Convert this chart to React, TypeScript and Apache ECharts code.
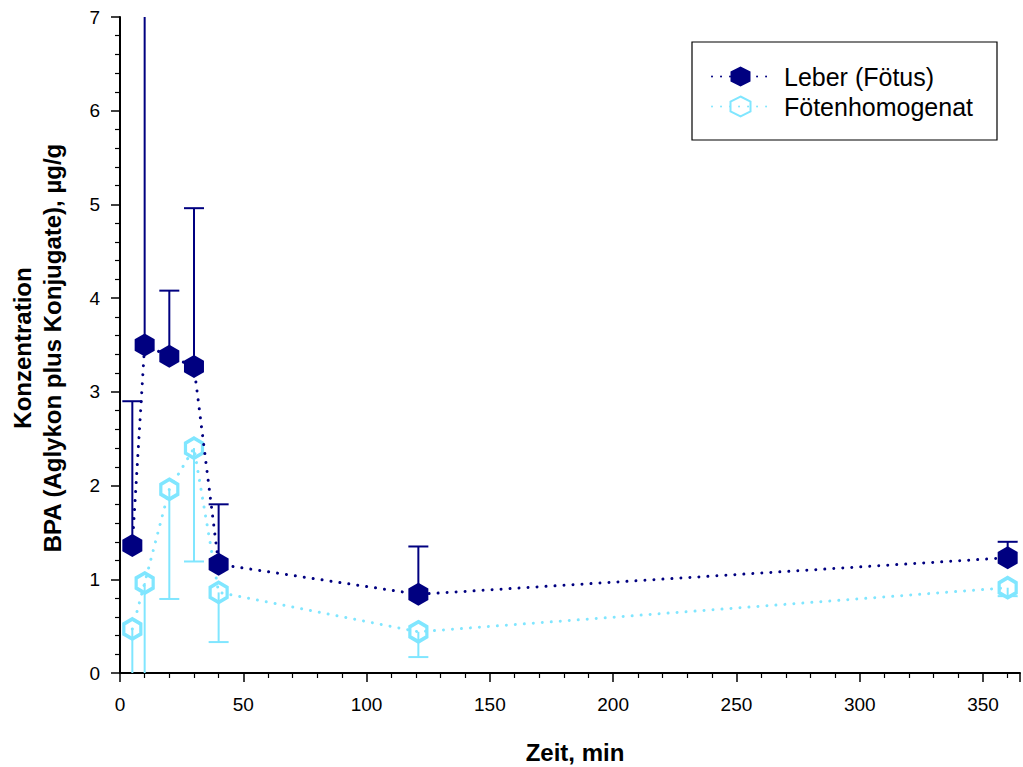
import React, { useEffect, useRef } from "react";
import * as echarts from "echarts";

const timeMin = [5, 10, 20, 30, 40, 121, 360];
const leber = [1.36, 3.5, 3.38, 3.27, 1.16, 0.84, 1.23];
const leberUpper = [2.9, 7.6, 4.08, 4.96, 1.8, 1.35, 1.4];
const homogenat = [0.47, 0.96, 1.96, 2.4, 0.86, 0.44, 0.91];
const homogenatLower = [-0.3, -0.6, 0.79, 1.19, 0.33, 0.17, 0.82];

const xTitle = "Zeit, min";
const yTitle1 = "Konzentration";
const yTitle2 = "BPA (Aglykon plus Konjugate), µg/g";
const seriesNames = ["Leber (Fötus)", "Fötenhomogenat"];

const DARK = "#000080";
const LIGHT = "#80E6FF";
const FONT = "'Liberation Sans', Arial, sans-serif";
const HEX = "path://M0,-1 L0.866,-0.5 L0.866,0.5 L0,1 L-0.866,0.5 L-0.866,-0.5 Z";

function errRender(color: string) {
  return (params: any, api: any) => {
    const x = api.value(0);
    const y = api.value(1);
    const e = api.value(2);
    const p = api.coord([x, y]);
    const q = api.coord([x, e]);
    return {
      type: "group",
      children: [
        { type: "line", shape: { x1: p[0], y1: p[1], x2: q[0], y2: q[1] }, style: { stroke: color, lineWidth: 2 } },
        { type: "line", shape: { x1: q[0] - 10, y1: q[1], x2: q[0] + 10, y2: q[1] }, style: { stroke: color, lineWidth: 2 } },
      ],
    };
  };
}

export default function App() {
  const ref = useRef<HTMLDivElement>(null);
  useEffect(() => {
    const chart = echarts.init(ref.current!, undefined, { renderer: "svg" });
    const axisCommon = {
      axisLine: { show: true, lineStyle: { color: "#000", width: 2 } },
      axisTick: { show: true, inside: false, length: 9, lineStyle: { color: "#000", width: 1.5 } },
      minorTick: { show: true, splitNumber: 5, length: 5, lineStyle: { color: "#000", width: 1.2 } },
      splitLine: { show: false },
      minorSplitLine: { show: false },
    };
    chart.setOption({
      animation: false,
      backgroundColor: "#fff",
      grid: { left: 120, right: 3, top: 17, bottom: 94, containLabel: false },
      xAxis: {
        type: "value",
        min: 0,
        max: 365,
        interval: 50,
        ...axisCommon,
        axisLabel: { color: "#000", fontSize: 19, fontFamily: FONT, margin: 22, showMaxLabel: false },
      },
      yAxis: {
        type: "value",
        min: 0,
        max: 7,
        interval: 1,
        ...axisCommon,
        axisLabel: { color: "#000", fontSize: 19, fontFamily: FONT, margin: 20 },
      },
      legend: {
        data: seriesNames,
        orient: "vertical",
        left: 711,
        top: 64,
        padding: 0,
        itemWidth: 57,
        itemHeight: 25,
        itemGap: 5,
        textStyle: { color: "#000", fontSize: 25, fontFamily: FONT, padding: [0, 0, 0, 10] },
      },
      graphic: [
        {
          type: "rect",
          shape: { x: 692, y: 42, width: 305, height: 98 },
          style: { fill: "none", stroke: "#000", lineWidth: 1.2 },
          z: 0,
        },
        {
          type: "text",
          x: 575,
          y: 752,
          style: { text: xTitle, font: `bold 24px ${FONT}`, fill: "#000", align: "center", verticalAlign: "middle" },
        },
        {
          type: "text",
          x: 22,
          y: 348,
          rotation: Math.PI / 2,
          style: { text: yTitle1, font: `bold 24px ${FONT}`, fill: "#000", align: "center", verticalAlign: "middle" },
        },
        {
          type: "text",
          x: 52,
          y: 348,
          rotation: Math.PI / 2,
          style: { text: yTitle2, font: `bold 24px ${FONT}`, fill: "#000", align: "center", verticalAlign: "middle" },
        },
      ],
      series: [
        {
          type: "custom",
          name: "errLight",
          clip: true,
          z: 1,
          renderItem: errRender(LIGHT),
          data: timeMin.map((t, i) => [t, homogenat[i], homogenatLower[i]]),
        },
        {
          type: "custom",
          name: "errDark",
          clip: true,
          z: 1,
          renderItem: errRender(DARK),
          data: timeMin.map((t, i) => [t, leber[i], leberUpper[i]]),
        },
        {
          type: "line",
          name: seriesNames[1],
          z: 3,
          data: timeMin.map((t, i) => [t, homogenat[i]]),
          symbol: HEX,
          symbolSize: [17, 20],
          showAllSymbol: true,
          lineStyle: { color: LIGHT, width: 3, type: [0.01, 9], cap: "round" },
          itemStyle: { color: "rgba(255,255,255,0)", borderColor: LIGHT, borderWidth: 3.5 },
        },
        {
          type: "line",
          name: seriesNames[0],
          z: 4,
          data: timeMin.map((t, i) => [t, leber[i]]),
          symbol: HEX,
          symbolSize: [20, 23],
          showAllSymbol: true,
          lineStyle: { color: DARK, width: 3, type: [0.01, 9], cap: "round" },
          itemStyle: { color: DARK, borderColor: DARK, borderWidth: 0 },
        },
      ],
    });
    return () => chart.dispose();
  }, []);
  return <div ref={ref} style={{ position: "fixed", left: 0, top: 0, width: 1023, height: 767 }} />;
}
